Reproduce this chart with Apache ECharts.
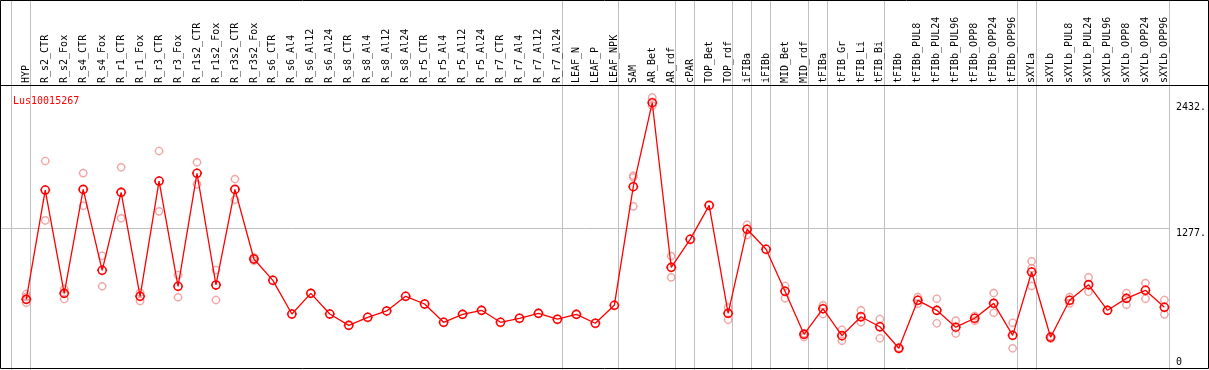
<!DOCTYPE html>
<html>
<head>
<meta charset="utf-8">
<script src="https://cdn.jsdelivr.net/npm/echarts@6/dist/echarts.min.js"></script>
<style>
html,body{margin:0;padding:0;background:#fff;}
#c{width:1209px;height:370px;}
</style>
</head>
<body>
<div id="c"></div>
<script>
const geneName = 'Lus10015267';
const categories = ['HYP','R_s2_CTR','R_s2_Fox','R_s4_CTR','R_s4_Fox','R_r1_CTR','R_r1_Fox','R_r3_CTR','R_r3_Fox','R_r1s2_CTR','R_r1s2_Fox','R_r3s2_CTR','R_r3s2_Fox','R_s6_CTR','R_s6_Al4','R_s6_Al12','R_s6_Al24','R_s8_CTR','R_s8_Al4','R_s8_Al12','R_s8_Al24','R_r5_CTR','R_r5_Al4','R_r5_Al12','R_r5_Al24','R_r7_CTR','R_r7_Al4','R_r7_Al12','R_r7_Al24','LEAF_N','LEAF_P','LEAF_NPK','SAM','AR_Bet','AR_rdf','cPAR','TOP_Bet','TOP_rdf','iFIBa','iFIBb','MID_Bet','MID_rdf','tFIBa','tFIB_Gr','tFIB_Li','tFIB_Bi','tFIBb','tFIBb_PUL8','tFIBb_PUL24','tFIBb_PUL96','tFIBb_OPP8','tFIBb_OPP24','tFIBb_OPP96','sXYLa','sXYLb','sXYLb_PUL8','sXYLb_PUL24','sXYLb_PUL96','sXYLb_OPP8','sXYLb_OPP24','sXYLb_OPP96'];
const means = [624,1629,679,1635,891,1608,652,1712,744,1783,756,1635,995,799,489,679,489,385,459,517,652,581,413,486,523,413,450,495,441,486,404,569,1660,2432,918,1176,1488,495,1268,1084,698,302,538,290,464,372,174,615,523,368,450,587,293,875,275,615,759,523,633,707,551];
const replicates = [[673,648,593],[1896,1350],[719,627],[1785,1485],[1025,744],[1838,1369],[685,609],[1988,1433],[848,643],[1884,1682],[894,618],[1730,1540],[1010,980],[],[],[],[],[],[],[],[],[],[],[],[],[],[],[],[],[],[],[],[1761,1746,1479],[2481,2404],[1022,826],[],[],[551,437],[1310,1215],[],[747,635],[312,278],[569,489],[345,244],[523,413],[443,266],[180,168],[645,584],[630,404],[428,310],[471,428],[682,501],[409,174],[974,909,747],[285,265],[645,587],[826,694],[],[682,575],[774,630],[618,486]];
const yTickValues = [0, 1277, 2432];
const yTickLabels = ['0', '1277.', '2432.'];
const yGridValues = [1277];
const separatorsAfter = [-1, 0, 28, 31, 34, 35, 37, 38, 39, 41, 42, 45, 52, 53, 60];

const FONT = 'DejaVu Sans Mono';
const markerPath = 'path://M1,5 A4,4 0 1,1 9,5 A4,4 0 1,1 1,5 Z M5,0 L5,1 M5,9 L5,10 M0,5 L1,5 M9,5 L10,5';
const SEP_FRAC = 0.22;

const repData = [];
replicates.forEach((arr, i) => arr.forEach(v => repData.push([i, v])));

const chart = echarts.init(document.getElementById('c'), null, {renderer: 'canvas'});
const GRID_LEFT = 16.8, GRID_W = 1159.4, GRID_TOP = 85, GRID_H = 282.2;

chart.setOption({
  animation: false,
  backgroundColor: '#fff',
  title: {
    text: geneName, left: 8, top: 91,
    textStyle: {color: '#ff0000', fontSize: 10, fontFamily: FONT, fontWeight: 'normal'}
  },
  grid: {left: GRID_LEFT, top: GRID_TOP, width: GRID_W, height: GRID_H, containLabel: false},
  xAxis: {
    type: 'category', data: categories, position: 'top', boundaryGap: true,
    axisLine: {show: false}, axisTick: {show: false}, splitLine: {show: false},
    axisLabel: {interval: 0, rotate: 90, margin: 2, fontSize: 10, fontFamily: FONT, color: '#000'}
  },
  yAxis: {
    type: 'value', min: 0, max: 2595, position: 'right',
    axisLine: {show: false}, axisTick: {show: false}, splitLine: {show: false},
    axisLabel: {
      customValues: yTickValues, margin: 2, fontSize: 10, fontFamily: FONT, color: '#000',
      verticalAlign: 'top', verticalAlignMinLabel: 'bottom',
      formatter: v => { const k = yTickValues.indexOf(v); return k >= 0 ? yTickLabels[k] : ''; }
    }
  },
  series: [{
    type: 'scatter', data: repData, symbol: markerPath, symbolSize: 9, silent: true, z: 2,
    itemStyle: {color: 'rgba(0,0,0,0)', borderColor: '#ee9090', borderWidth: 1.4}
  }, {
    type: 'line', data: means, symbol: markerPath, symbolSize: 10, showSymbol: true, silent: true, z: 3,
    lineStyle: {color: '#ff0000', width: 1.3},
    itemStyle: {color: 'rgba(0,0,0,0)', borderColor: '#ff0000', borderWidth: 1.6}
  }]
});

// Separators and gridline positioned from the chart's own scales
const px = i => chart.convertToPixel({xAxisIndex: 0}, i);
const py = v => chart.convertToPixel({yAxisIndex: 0}, v);
const band = px(1) - px(0);
const sepXs = separatorsAfter.map(i => i < 0 ? px(0) - (1 - SEP_FRAC) * band : px(i) + SEP_FRAC * band);
const xRight = Math.round(sepXs[sepXs.length - 1]) + 0.5;
const graphics = [];
sepXs.forEach(x => {
  const xx = Math.round(x) + 0.5;
  graphics.push({type: 'line', shape: {x1: xx, y1: 0, x2: xx, y2: 370}, style: {stroke: '#c0c0c0', lineWidth: 1}, z: -1, silent: true});
});
yGridValues.forEach(v => {
  const yy = Math.round(py(v)) + 0.5;
  graphics.push({type: 'line', shape: {x1: 0, y1: yy, x2: xRight, y2: yy}, style: {stroke: '#c0c0c0', lineWidth: 1}, z: -1, silent: true});
});
graphics.push({type: 'rect', shape: {x: 0.5, y: 0.5, width: 1208, height: 368}, style: {fill: 'none', stroke: '#000', lineWidth: 1}, z: 100, silent: true});
graphics.push({type: 'line', shape: {x1: 0, y1: 85.5, x2: 1209, y2: 85.5}, style: {stroke: '#000', lineWidth: 1}, z: 100, silent: true});
chart.setOption({graphic: graphics});
</script>
</body>
</html>
